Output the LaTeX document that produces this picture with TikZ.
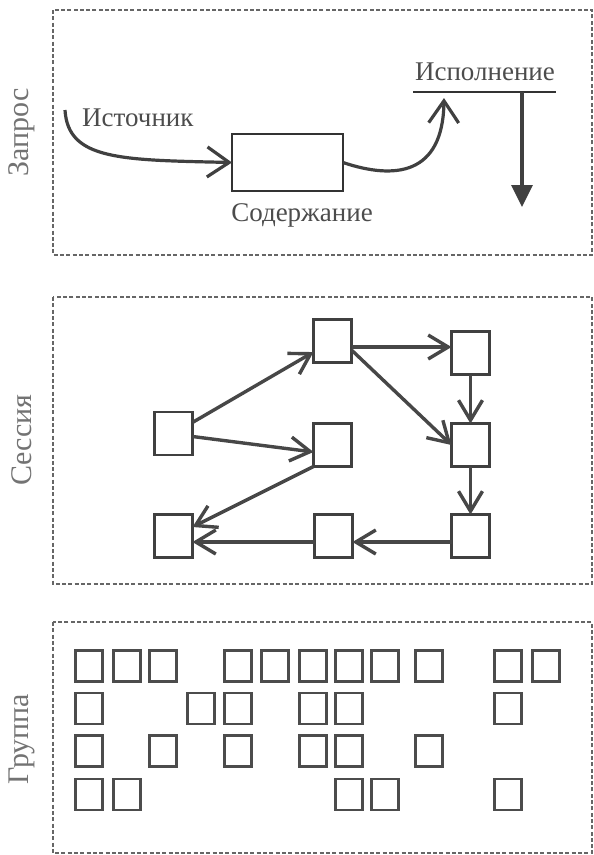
\documentclass[tikz,border=0pt]{standalone}
\usepackage{fontspec}
\setmainfont{Liberation Serif}
\usetikzlibrary{arrows.meta,calc}
\newcommand{\lbl}{\fontsize{27}{30}\selectfont}
\newcommand{\plbl}{\fontsize{30}{33}\selectfont}
\tikzset{
  frame/.style={draw=black!60, line width=1.5pt, dash pattern=on 4pt off 2.3pt},
  panellabel/.style={rotate=90, text=black!55, font=\plbl, inner sep=0pt},
  txt/.style={text=black!70, font=\lbl, inner sep=0pt},
  sq/.style={draw=black!75, line width=2.3pt, minimum width=38pt, minimum height=43pt, inner sep=0pt, outer sep=0pt},
  gsq/.style={draw=black!70, line width=2.5pt, minimum width=27pt, minimum height=31pt, inner sep=0pt},
  link/.style={draw=black!72, line width=3.4pt, -{Straight Barb[length=20pt,width=24pt]}},
  biglink/.style={draw=black!75, line width=3.2pt, -{Straight Barb[length=22pt,width=30pt]}},
  box/.style={draw=black!80, line width=2.6pt, minimum width=111pt, minimum height=57pt, inner sep=0pt, outer sep=0pt},
}
\begin{document}
\begin{tikzpicture}[x=1pt,y=-1pt]
\useasboundingbox (0,0) rectangle (594,855);
% frames
\draw[frame] (53,10) rectangle (592,255);
\draw[frame] (53,297) rectangle (592,584);
\draw[frame] (53,622) rectangle (592,853);
\node[panellabel] (lq) at (22,132) {Запрос};
\node[panellabel] (ls) at (22,440) {Сессия};
\node[panellabel] (lg) at (22,739) {Группа};
% top panel
\node[txt, anchor=west] (src) at (82,118) {Источник};
\node[box] (cont) at (287.5,162.5) {};
\node[txt] (contl) at (302,215) {Содержание};
\node[txt] (exe) at (485,72) {Исполнение};
\coordinate (s0) at (65,110);
\coordinate (l1) at (413,92);
\coordinate (l2) at (556,92);
\coordinate (up) at (444,98);
\coordinate (v0) at (522,92);
\coordinate (v1) at (522,207);
\draw[biglink] (s0) .. controls (68,160) and (120,160) .. (cont.west);
\draw[biglink] (cont.east) .. controls (395,180) and (443,175) .. (up);
\draw[draw=black!80, line width=2.6pt] (l1) -- (l2);
\draw[draw=black!75, line width=3.2pt, -{Triangle[length=22pt,width=21pt]}] (v0) -- (v1);
% middle panel
\node[sq] (A) at (173.5,433.5) {};
\node[sq] (B) at (332.5,341) {};
\node[sq] (C) at (470.5,353) {};
\node[sq] (D) at (332.5,445) {};
\node[sq] (E) at (470.5,445) {};
\node[sq] (F) at (173.5,536) {};
\node[sq] (G) at (333.5,536) {};
\node[sq] (H) at (470.5,536) {};
\draw[link] (A) -- (B);
\draw[link] ($(A.east)+(0,3)$) -- ($(D.west)+(0,7)$);
\draw[link] ($(B.east)+(0,6)$) -- ($(C.west)+(0,-6)$);
\draw[link] ($(B.east)+(0,9)$) -- (E.west);
\draw[link] (C.south) -- (E.north);
\draw[link] (E.south) -- (H.north);
\draw[link] ($(H.west)+(0,6)$) -- ($(G.east)+(0,6)$);
\draw[link] ($(G.west)+(0,6)$) -- ($(F.east)+(0,6)$);
\draw[link] (D.south west) -- ($(F.east)+(0,-9)$);
% bottom panel grid
\foreach \r/\y/\cols in {1/666/{75,113,149,224,261,299,335,371,415,494,532},
                         2/708.5/{75,187,224,299,335,494},
                         3/751/{75,149,224,299,335,415},
                         4/794.5/{75,113,335,371,494}} {
  \foreach \cx in \cols {
    \node[gsq] (g\r-\cx) at (\cx+14,\y) {};
  }
}
\end{tikzpicture}
\end{document}
